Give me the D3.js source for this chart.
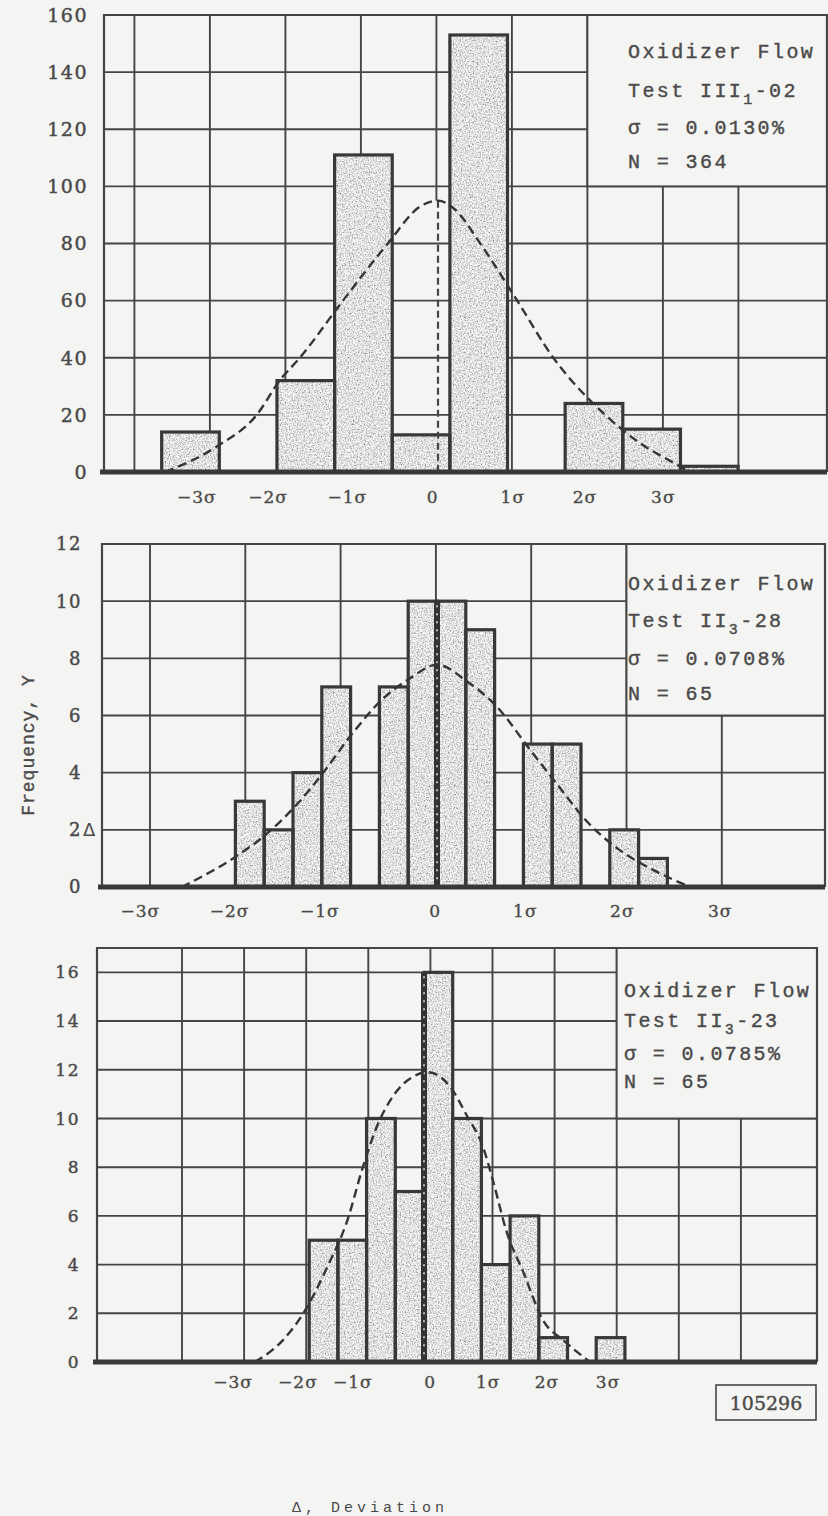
<!DOCTYPE html>
<html>
<head>
<meta charset="utf-8">
<script src="https://cdn.jsdelivr.net/npm/d3@7"></script>
<style>
  body { margin: 0; background: #f4f4f2; }
  svg { display: block; }
</style>
</head>
<body>
<div id="container"></div>
<script>
// x values are in sigma units (deviation from mean), y values are counts

const sigmaLabels = ["−3σ", "−2σ", "−1σ", "0", "1σ", "2σ", "3σ"];

// Test III1-02
const p1Counts = [14, 0, 32, 111, 13, 153, 0, 24, 15, 2];
const p1BinStart = -3.14;
const p1BinWidth = 0.655;
const p1YTicks = [0, 20, 40, 60, 80, 100, 120, 140, 160];
const p1SigmaPos = [-2.74, -1.93, -1.03, -0.06, 0.85, 1.67, 2.56];
const p1CurveX = [-3.10, -2.51, -2.06, -1.80, -1.57, -1.08, -0.57, -0.20, 0, 0.19, 0.48, 0.90, 1.31, 1.73, 1.90, 2.30, 2.72, 2.86];
const p1CurveY = [0, 9, 20, 32, 40, 60, 80, 93, 95, 92, 80, 60, 40, 25, 20, 10, 2.5, 0];
const p1Test = ["III", "1", "-02"];
const p1Sigma = "0.0130%";
const p1N = 364;

// Test II3-28
const p2Counts = [3, 2, 4, 7, 0, 7, 10, 10, 9, 0, 5, 5, 0, 2, 1];
const p2BinStart = -2.1;
const p2BinWidth = 0.3;
const p2YTicks = [0, 2, 4, 6, 8, 10, 12];
const p2SigmaPos = [-3.09, -2.16, -1.22, -0.02, 0.92, 1.93, 2.95];
const p2CurveX = [-2.66, -2.125, -1.76, -1.43, -1.22, -0.875, -0.59, -0.28, 0, 0.31, 0.625, 0.97, 1.25, 1.56, 1.90, 2.25, 2.64];
const p2CurveY = [0, 1.0, 1.9, 3.0, 3.85, 5.4, 6.5, 7.3, 7.78, 7.2, 6.3, 4.8, 3.6, 2.3, 1.3, 0.6, 0];
const p2Test = ["II", "3", "-28"];
const p2Sigma = "0.0708%";
const p2N = 65;

// Test II3-23
const p3Counts = [5, 5, 10, 7, 16, 10, 4, 6, 1, 0, 1];
const p3BinStart = -1.84;
const p3BinWidth = 0.46;
const p3YTicks = [0, 2, 4, 6, 8, 10, 12, 14, 16];
const p3SigmaPos = [-3.06, -2.02, -1.14, 0.10, 1.03, 1.97, 2.95];
const p3CurveX = [-2.71, -2.26, -1.91, -1.55, -1.23, -0.98, -0.75, -0.50, -0.11, 0.06, 0.42, 0.69, 0.95, 1.11, 1.33, 1.59, 1.91, 2.23, 2.66];
const p3CurveY = [0, 0.9, 2.1, 3.9, 5.8, 8.0, 9.7, 10.9, 11.8, 11.9, 11.3, 10.1, 8.8, 7.4, 5.3, 3.7, 1.7, 0.9, 0];
const p3Test = ["II", "3", "-23"];
const p3Sigma = "0.0785%";
const p3N = 65;

const W = 828, H = 1516;
const ink = "#454545";
const textInk = "#4a4a4a";
const bg = "#f4f4f2";
const serif = "'DejaVu Serif', serif";
const mono = "'Liberation Mono', 'DejaVu Sans Mono', monospace";

const svg = d3.create("svg").attr("width", W).attr("height", H);
svg.append("rect").attr("width", W).attr("height", H).attr("fill", bg);

// speckled grey fill for the bars
const filter = svg.append("defs").append("filter")
  .attr("id", "stipple")
  .attr("filterUnits", "userSpaceOnUse")
  .attr("x", 0).attr("y", 0).attr("width", W).attr("height", H);
filter.append("feTurbulence")
  .attr("type", "fractalNoise").attr("baseFrequency", 0.75)
  .attr("numOctaves", 2).attr("seed", 5).attr("result", "noise");
filter.append("feColorMatrix")
  .attr("in", "noise").attr("type", "saturate").attr("values", 0).attr("result", "gray");
const ct = filter.append("feComponentTransfer").attr("in", "gray").attr("result", "tone");
["R", "G", "B"].forEach(ch => ct.append("feFunc" + ch).attr("type", "linear").attr("slope", 2.0).attr("intercept", -0.24));
ct.append("feFuncA").attr("type", "linear").attr("slope", 0).attr("intercept", 1);
filter.append("feComposite").attr("in", "tone").attr("in2", "SourceGraphic").attr("operator", "in");

function drawPanel(c) {
  const g = svg.append("g");
  const x = d3.scaleLinear().domain([0, 1]).range([c.zero, c.zero + c.sigma]);
  const y = d3.scaleLinear().domain([0, c.yMax]).range([c.bottom, c.top]);
  const gridPx = d3.range(c.gridCount).map(i => c.gridFirst + i * c.gridStep);

  // graph paper
  g.selectAll(".vgrid")
    .data(gridPx)
    .enter().append("line")
    .attr("x1", d => d).attr("x2", d => d)
    .attr("y1", c.top)
    .attr("y2", d => (c.zeroDash && Math.abs(d - x(0)) < 4) ? y(c.peak) : c.bottom)
    .attr("stroke", ink).attr("stroke-width", 1.9);

  g.selectAll(".hgrid")
    .data(c.yTicks.filter(v => v > 0 && v < c.yMax))
    .enter().append("line")
    .attr("x1", c.left).attr("x2", c.right)
    .attr("y1", d => y(d)).attr("y2", d => y(d))
    .attr("stroke", ink).attr("stroke-width", 1.9);

  // legend box
  const lx = gridPx[c.legendGrid];
  g.append("rect")
    .attr("x", lx).attr("y", c.top)
    .attr("width", c.right - lx).attr("height", y(c.legendBottom) - c.top)
    .attr("fill", bg).attr("stroke", ink).attr("stroke-width", 1.9);

  // bars
  const bins = c.counts.map((v, i) => ({
    x0: c.binStart + i * c.binWidth,
    x1: c.binStart + (i + 1) * c.binWidth,
    v: v
  })).filter(d => d.v > 0);

  g.append("g").attr("filter", "url(#stipple)")
    .selectAll("rect")
    .data(bins)
    .enter().append("rect")
    .attr("x", d => x(d.x0)).attr("width", d => x(d.x1) - x(d.x0))
    .attr("y", d => y(d.v)).attr("height", d => y(0) - y(d.v))
    .attr("fill", "#000");

  g.append("g")
    .selectAll("rect")
    .data(bins)
    .enter().append("rect")
    .attr("x", d => x(d.x0)).attr("width", d => x(d.x1) - x(d.x0))
    .attr("y", d => y(d.v)).attr("height", d => y(0) - y(d.v))
    .attr("fill", "none").attr("stroke", "#383838").attr("stroke-width", 3.2);

  // mean marker
  if (c.zeroDash) {
    g.append("line")
      .attr("x1", x(0)).attr("x2", x(0))
      .attr("y1", y(c.peak)).attr("y2", c.bottom)
      .attr("stroke", ink).attr("stroke-width", 2.2).attr("stroke-dasharray", "7 4");
  } else {
    g.append("line")
      .attr("x1", x(0)).attr("x2", x(0))
      .attr("y1", y(c.zeroTop)).attr("y2", c.bottom)
      .attr("stroke", "#333").attr("stroke-width", 6);
    g.append("line")
      .attr("x1", x(0)).attr("x2", x(0))
      .attr("y1", y(c.zeroTop) + 4).attr("y2", c.bottom - 2)
      .attr("stroke", "#e6e6e6").attr("stroke-width", 1.5).attr("stroke-dasharray", "2 6");
  }

  // fitted normal curve
  const line = d3.line()
    .x(d => x(d[0])).y(d => y(d[1]))
    .curve(d3.curveMonotoneX);
  g.append("path")
    .datum(d3.zip(c.curveX, c.curveY))
    .attr("d", line)
    .attr("fill", "none").attr("stroke", "#353535")
    .attr("stroke-width", 2.4).attr("stroke-dasharray", "9 5");

  // frame
  g.append("path")
    .attr("d", `M${c.left},${c.bottom}V${c.top}H${c.right}V${c.bottom}`)
    .attr("fill", "none").attr("stroke", ink).attr("stroke-width", 2.2);
  g.append("line")
    .attr("x1", c.left - 4).attr("x2", c.right)
    .attr("y1", y(0)).attr("y2", y(0))
    .attr("stroke", "#383838").attr("stroke-width", 5);

  // y tick labels
  g.selectAll(".ylab")
    .data(c.yTicks)
    .enter().append("text")
    .attr("x", c.yLabelRight).attr("y", d => y(d))
    .attr("dy", "0.36em")
    .attr("text-anchor", "end")
    .attr("font-family", serif).attr("font-size", c.fontSize)
    .attr("letter-spacing", 1.5)
    .attr("fill", textInk).attr("stroke", textInk).attr("stroke-width", 0.45)
    .text(d => d);

  if (c.marker) {
    g.append("text")
      .attr("x", c.yLabelRight + 1).attr("y", y(c.marker.value))
      .attr("dy", "0.36em")
      .attr("font-family", "'DejaVu Sans', sans-serif").attr("font-size", c.fontSize)
      .attr("fill", textInk)
      .text(c.marker.text);
  }

  // sigma labels
  g.selectAll(".xlab")
    .data(d3.zip(c.sigmaPos, sigmaLabels))
    .enter().append("text")
    .attr("x", d => x(d[0])).attr("y", c.xLabelY)
    .attr("text-anchor", "middle")
    .attr("font-family", serif).attr("font-size", 17)
    .attr("letter-spacing", 1)
    .attr("fill", textInk).attr("stroke", textInk).attr("stroke-width", 0.35)
    .text(d => d[1]);

  // legend
  const leg = g.append("g")
    .attr("font-family", mono).attr("font-size", 20)
    .attr("letter-spacing", 2.4)
    .attr("fill", textInk).attr("stroke", textInk).attr("stroke-width", 0.4);
  leg.append("text").attr("x", c.legendX).attr("y", c.legendY[0]).text("Oxidizer Flow");
  const t = leg.append("text").attr("x", c.legendX).attr("y", c.legendY[1]);
  t.append("tspan").text("Test " + c.test[0]);
  t.append("tspan").attr("font-size", 15).attr("dy", 7).text(c.test[1]);
  t.append("tspan").attr("dy", -7).text(c.test[2]);
  leg.append("text").attr("x", c.legendX).attr("y", c.legendY[2]).text("σ = " + c.sigmaText);
  leg.append("text").attr("x", c.legendX).attr("y", c.legendY[3]).text("N = " + c.n);
}

drawPanel({
  counts: p1Counts, binStart: p1BinStart, binWidth: p1BinWidth, yTicks: p1YTicks,
  sigmaPos: p1SigmaPos, curveX: p1CurveX, curveY: p1CurveY,
  test: p1Test, sigmaText: p1Sigma, n: p1N,
  left: 104, right: 827, top: 15, bottom: 472, yMax: 160,
  zero: 438, sigma: 88,
  gridFirst: 134.4, gridStep: 75.5, gridCount: 9,
  legendGrid: 6, legendBottom: 100,
  zeroDash: true, peak: 95,
  yLabelRight: 88, fontSize: 19, xLabelY: 503,
  legendX: 628, legendY: [58, 97, 134, 168]
});

drawPanel({
  counts: p2Counts, binStart: p2BinStart, binWidth: p2BinWidth, yTicks: p2YTicks,
  sigmaPos: p2SigmaPos, curveX: p2CurveX, curveY: p2CurveY,
  test: p2Test, sigmaText: p2Sigma, n: p2N,
  left: 102, right: 825, top: 544, bottom: 887, yMax: 12,
  zero: 437, sigma: 96,
  gridFirst: 150, gridStep: 95.3, gridCount: 7,
  legendGrid: 5, legendBottom: 6,
  zeroDash: false, zeroTop: 10,
  yLabelRight: 82, fontSize: 18, xLabelY: 917,
  marker: { value: 2, text: "Δ" },
  legendX: 628, legendY: [590, 627, 665, 700]
});

drawPanel({
  counts: p3Counts, binStart: p3BinStart, binWidth: p3BinWidth, yTicks: p3YTicks,
  sigmaPos: p3SigmaPos, curveX: p3CurveX, curveY: p3CurveY,
  test: p3Test, sigmaText: p3Sigma, n: p3N,
  left: 97, right: 817, top: 948, bottom: 1362, yMax: 17,
  zero: 424, sigma: 62.4,
  gridFirst: 182, gridStep: 62.1, gridCount: 10,
  legendGrid: 7, legendBottom: 10,
  zeroDash: false, zeroTop: 16,
  yLabelRight: 80, fontSize: 17, xLabelY: 1388,
  legendX: 624, legendY: [997, 1027, 1060, 1088]
});

// shared y axis title
svg.append("text")
  .attr("transform", "translate(34,745) rotate(-90)")
  .attr("text-anchor", "middle")
  .attr("font-family", mono).attr("font-size", 18)
  .attr("letter-spacing", 1)
  .attr("fill", textInk).attr("stroke", textInk).attr("stroke-width", 0.4)
  .text("Frequency, Y");

// figure number
svg.append("rect")
  .attr("x", 716).attr("y", 1385).attr("width", 100).attr("height", 35)
  .attr("fill", "none").attr("stroke", ink).attr("stroke-width", 1.6);
svg.append("text")
  .attr("x", 766).attr("y", 1410)
  .attr("text-anchor", "middle")
  .attr("font-family", serif).attr("font-size", 19)
  .attr("fill", textInk).attr("stroke", textInk).attr("stroke-width", 0.4)
  .text("105296");

// x axis title at the bottom edge
svg.append("text")
  .attr("x", 292).attr("y", 1512)
  .attr("font-family", mono).attr("font-size", 15)
  .attr("letter-spacing", 4)
  .attr("fill", textInk)
  .text("Δ, Deviation");

document.getElementById("container").append(svg.node());
</script>
</body>
</html>
